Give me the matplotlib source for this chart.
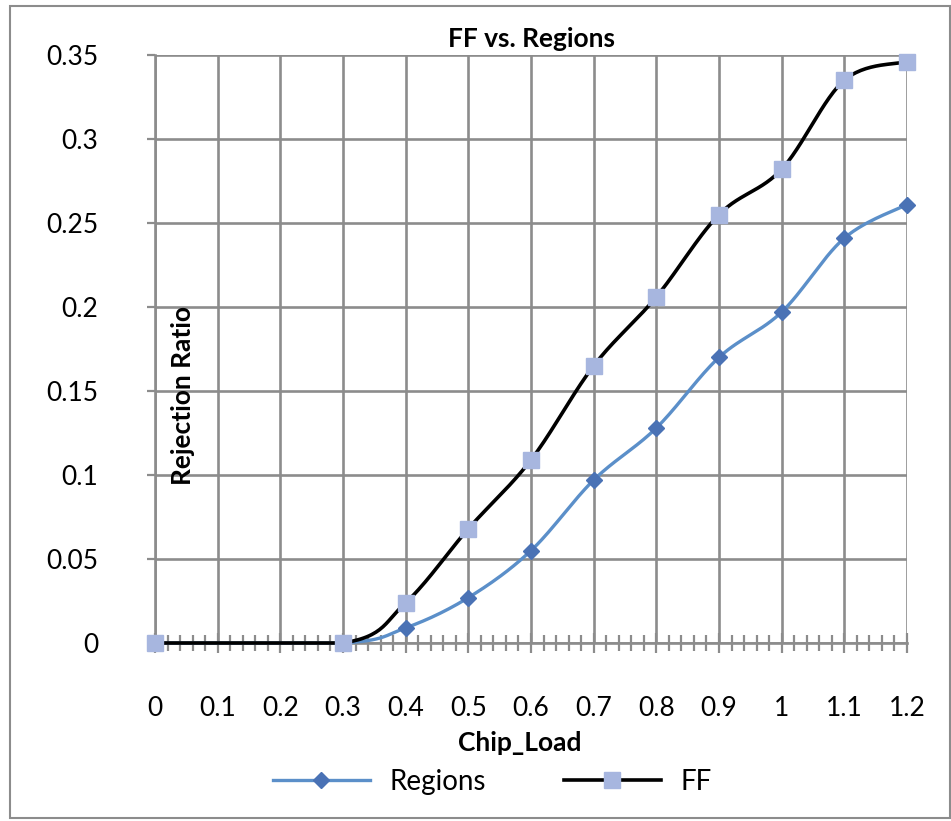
import numpy as np
import matplotlib.pyplot as plt
from matplotlib.patches import Rectangle
from matplotlib.ticker import MultipleLocator

plt.rcParams['font.family'] = ['Lato', 'DejaVu Sans']

# data
chip_load = [0.0, 0.3, 0.4, 0.5, 0.6, 0.7, 0.8, 0.9, 1.0, 1.1, 1.2]
regions = [0.0, 0.0, 0.009, 0.027, 0.055, 0.097, 0.128, 0.170, 0.197, 0.241, 0.261]
ff = [0.0, 0.0, 0.024, 0.068, 0.109, 0.165, 0.206, 0.255, 0.282, 0.335, 0.346]

x_ticks = [0, 0.1, 0.2, 0.3, 0.4, 0.5, 0.6, 0.7, 0.8, 0.9, 1.0, 1.1, 1.2]
x_labels = ['0', '0.1', '0.2', '0.3', '0.4', '0.5', '0.6', '0.7', '0.8', '0.9', '1', '1.1', '1.2']
y_ticks = [0, 0.05, 0.1, 0.15, 0.2, 0.25, 0.3, 0.35]
y_labels = ['0', '0.05', '0.1', '0.15', '0.2', '0.25', '0.3', '0.35']


def smooth(xs, ys, n=30):
    # excel style smoothed line (catmull-rom bezier)
    p = np.column_stack([xs, ys])
    out = []
    for i in range(len(p) - 1):
        p0 = p[i - 1] if i > 0 else p[i]
        p1, p2 = p[i], p[i + 1]
        p3 = p[i + 2] if i + 2 < len(p) else p[i + 1]
        c1 = p1 + (p2 - p0) / 6
        c2 = p2 - (p3 - p1) / 6
        t = np.linspace(0, 1, n)[:, None]
        seg = (1 - t) ** 3 * p1 + 3 * (1 - t) ** 2 * t * c1 + 3 * (1 - t) * t ** 2 * c2 + t ** 3 * p2
        out.append(seg if i == 0 else seg[1:])
    out = np.vstack(out)
    # the flat start never dips below zero in the original
    return out[:, 0], np.maximum(out[:, 1], 0)


fig = plt.figure(figsize=(9.51, 8.21), dpi=100)
ax = fig.add_axes([155 / 951, 1 - 643 / 821, 752 / 951, 588 / 821])

grid_c = '#8c8c8c'
ax.set_xlim(0, 1.2)
ax.set_ylim(0, 0.35)
ax.set_xticks(x_ticks)
ax.set_xticklabels(x_labels)
ax.set_yticks(y_ticks)
ax.set_yticklabels(y_labels)
ax.xaxis.set_minor_locator(MultipleLocator(0.02))
ax.grid(True, which='major', color=grid_c, linewidth=1.9)
ax.set_axisbelow(True)
for s in ['top', 'right']:
    ax.spines[s].set_visible(False)
for s in ['left', 'bottom']:
    ax.spines[s].set_color(grid_c)
    ax.spines[s].set_linewidth(1.9)
ax.tick_params(axis='x', which='major', direction='inout', length=14, width=1.6,
               color=grid_c, labelsize=19, pad=31)
ax.tick_params(axis='x', which='minor', direction='inout', length=12, width=1.6, color=grid_c)
ax.tick_params(axis='y', direction='out', length=6, width=1.6, color=grid_c,
               labelsize=19, pad=35)

rx, ry = smooth(chip_load, regions)
fx, fy = smooth(chip_load, ff)
ax.plot(rx, ry, color='#5b8fc9', linewidth=2.4, clip_on=False, zorder=3)
ax.plot(chip_load, regions, linestyle='none', marker='D', markersize=8,
        color='#4a72b5', clip_on=False, zorder=4)
ax.plot(fx, fy, color='black', linewidth=2.6, clip_on=False, zorder=5)
ax.plot(chip_load, ff, linestyle='none', marker='s', markersize=11,
        color='#a7b6df', clip_on=False, zorder=6)

# legend handles
h1, = ax.plot([], [], color='#5b8fc9', linewidth=2.4, marker='D', markersize=8,
              markerfacecolor='#4a72b5', markeredgecolor='#4a72b5')
h2, = ax.plot([], [], color='black', linewidth=2.6, marker='s', markersize=11,
              markerfacecolor='#a7b6df', markeredgecolor='#a7b6df')
fig.legend([h1, h2], ['Regions', 'FF'], loc='center', bbox_to_anchor=(492 / 951, 1 - 782 / 821),
           ncol=2, frameon=False, fontsize=20, handlelength=3.5, columnspacing=2.8,
           handletextpad=0.7)

ax.set_title('FF vs. Regions', fontsize=19, fontweight='bold', pad=6)
ax.set_xlabel('Chip_Load', fontsize=19, fontweight='bold')
ax.xaxis.set_label_coords((520 - 155) / 752, -(743 - 643) / 588)
ax.xaxis.label.set_verticalalignment('center')
ax.set_ylabel('Rejection Ratio', fontsize=19, fontweight='bold')
ax.yaxis.set_label_coords((183 - 155) / 752, (643 - 395) / 588)
ax.yaxis.label.set_verticalalignment('center')

# outer chart border
fig.patches.append(Rectangle((10 / 951, 1 - 818 / 821), 940 / 951, 812 / 821,
                             transform=fig.transFigure, fill=False,
                             edgecolor='#8c8c8c', linewidth=1.5))

fig.savefig('out.png', dpi=100)
